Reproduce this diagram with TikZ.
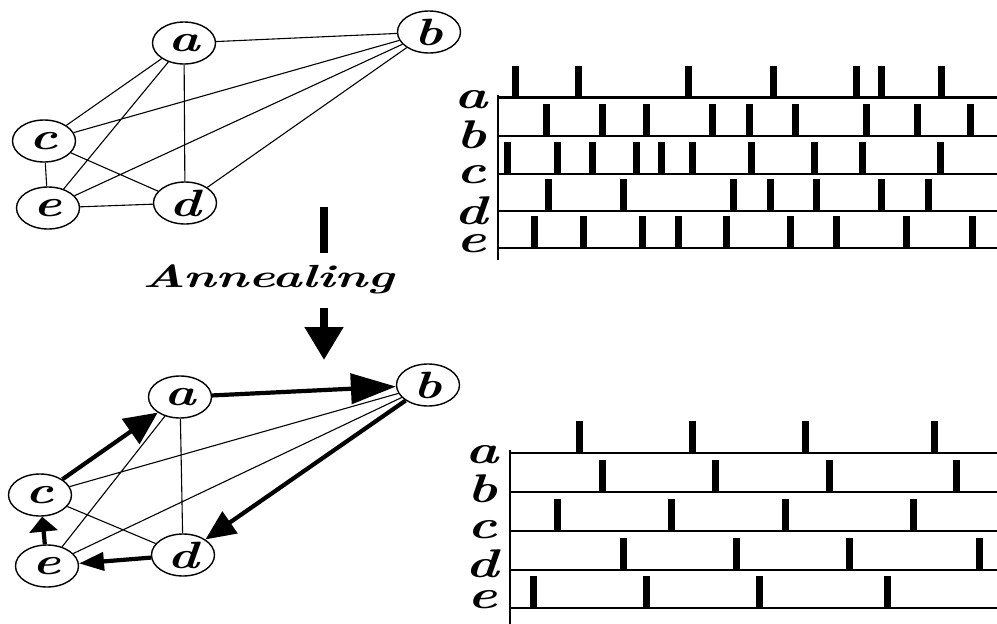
\documentclass[tikz,border=0pt]{standalone}
\usetikzlibrary{shapes.geometric,arrows.meta}
\newcommand\glab[1]{\scalebox{1.4}[1]{\fontsize{38}{38}\selectfont\bfseries\itshape #1}}
\newcommand\rlab[1]{\scalebox{1.4}[1]{\fontsize{40}{40}\selectfont\bfseries\itshape #1}}
\begin{document}
\begin{tikzpicture}[x=1pt,y=-1pt,
  vtx/.style={draw,ellipse,line width=1.4pt,minimum width=63pt,minimum height=42pt,inner sep=0pt},
  lnk/.style={line width=1.1pt},
  hvy/.style={line width=4.2pt},
  rowline/.style={line width=2.6pt},
  spk/.style={fill=black},
]
\useasboundingbox (0,0) rectangle (997,624);
% ---------- top graph ----------
\node[vtx] (a1) at (184,43) {\glab{a}};
\node[vtx] (b1) at (429,32) {\glab{b}};
\node[vtx] (c1) at (44,141) {\glab{c}};
\node[vtx] (e1) at (48,208) {\glab{e}};
\node[vtx] (d1) at (185,203) {\glab{d}};
\draw[lnk] (a1)--(b1) (a1)--(c1) (a1)--(e1) (a1)--(d1)
           (b1)--(c1) (b1)--(e1) (b1)--(d1)
           (c1)--(d1) (c1)--(e1) (e1)--(d1);
% ---------- annealing ----------
\coordinate (u1) at (324,207);
\coordinate (u2) at (324,253);
\draw[line width=8pt] (u1)--(u2);
\node[anchor=base,inner sep=0pt] (ann) at (268,287) {\scalebox{1.57}[1]{\fontsize{32}{32}\selectfont\bfseries\itshape Annealing}};
\coordinate (v1) at (324,308);
\coordinate (v2) at (324,360);
\draw[line width=8pt,-{Triangle[length=33pt,width=37pt]}] (v1)--(v2);
% ---------- bottom graph ----------
\node[vtx] (a2) at (180,397) {\glab{a}};
\node[vtx] (b2) at (428,385) {\glab{b}};
\node[vtx] (c2) at (40,495) {\glab{c}};
\node[vtx] (e2) at (47,566) {\glab{e}};
\node[vtx] (d2) at (183,555) {\glab{d}};
\draw[lnk] (a2)--(d2) (a2)--(e2) (c2)--(b2) (e2)--(b2) (c2)--(d2);
\draw[hvy,-{Triangle[length=33pt,width=30pt]}] (c2)--(a2);
\draw[hvy,-{Triangle[length=45pt,width=30pt]}] (a2)--(b2);
\draw[hvy,-{Triangle[length=30pt,width=26pt]}] (b2)--(d2);
\draw[hvy,-{Triangle[length=25pt,width=18pt]}] (d2)--(e2);
\draw[hvy,-{Triangle[length=15pt,width=28pt]}] (e2)--(c2);
% ---------- top raster ----------
\coordinate (ta0) at (498,95);
\coordinate (ta1) at (498,260);
\draw[rowline] (ta0)--(ta1);
\foreach \ly/\lab/\bl/\xs in {
  97.7/a/108/{515,578,688,773,856,881,941},
  136/b/148/{546,602,646,712,749,795,866,917,970},
  174/c/183/{507,557,592,636,661,692,751,814,862,940},
  211/d/224/{548,623,733,770,816,881,928},
  248/e/252/{534,583,642,678,726,790,836,906,972}}{
  \draw[rowline] (498,\ly)--(997,\ly);
  \node[anchor=base,inner sep=0pt] at (471,\bl) {\rlab{\lab}};
  \foreach \x in \xs {\fill[spk] (\x-3.5,\ly) rectangle (\x+3.5,\ly-32);}
}
% ---------- bottom raster ----------
\coordinate (tb0) at (510,450);
\coordinate (tb1) at (510,624);
\draw[rowline] (tb0)--(tb1);
\foreach \ly/\lab/\bl/\xs in {
  453/a/463/{579,692,805,934},
  492/b/502/{602,715,829,956},
  531/c/538/{557,671,785,913},
  570/d/577/{623,736,849,979},
  608/e/608/{533,646,759,887}}{
  \draw[rowline] (510,\ly)--(997,\ly);
  \node[anchor=base,inner sep=0pt] at (482,\bl) {\rlab{\lab}};
  \foreach \x in \xs {\fill[spk] (\x-3.5,\ly) rectangle (\x+3.5,\ly-32);}
}
\end{tikzpicture}
\end{document}
